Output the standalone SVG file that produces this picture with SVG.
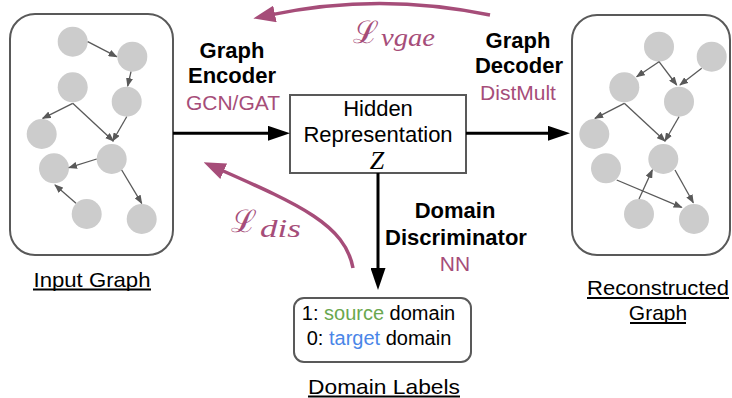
<svg xmlns="http://www.w3.org/2000/svg" width="732" height="398" viewBox="0 0 732 398">
<style>
.box{fill:#fff;stroke:#595959;stroke-width:2}
.nd{fill:#cccccc;stroke:none}
.ge{stroke:#595959;stroke-width:1.3;fill:none;marker-end:url(#sa)}
.big{stroke:#000;stroke-width:3;fill:none;marker-end:url(#ba)}
.loss{stroke:#a64d79;stroke-width:3.5;fill:none;marker-end:url(#pa)}
.t{font-family:"Liberation Sans",Arial,sans-serif;font-size:21px;fill:#000;text-anchor:middle}
.b{font-weight:bold;font-size:22px}
.pk{fill:#a64d79}
.math{font-family:"Liberation Serif","DejaVu Serif",serif;font-style:italic;fill:#a64d79}
.cal{font-family:"DejaVu Serif",serif;font-size:31px;fill:#a64d79}
.ul{stroke:#000;stroke-width:2}
</style>
<defs>
<marker id="sa" markerUnits="userSpaceOnUse" markerWidth="9" markerHeight="7" refX="8" refY="3.5" orient="auto"><path d="M0,0 L9,3.5 L0,7 z" fill="#595959"/></marker>
<marker id="ba" markerUnits="userSpaceOnUse" markerWidth="22" markerHeight="15" refX="2" refY="7.5" orient="auto"><path d="M0,0 L22,7.5 L0,15 z" fill="#000"/></marker>
<marker id="pa" markerUnits="userSpaceOnUse" markerWidth="22" markerHeight="17" refX="3" refY="8.5" orient="auto"><path d="M0,0 L22,8.5 L0,17 z" fill="#a64d79"/></marker>
</defs>

<g id="input-graph">
<rect class="box" x="10" y="14" width="163" height="241" rx="25"/>
<circle class="nd" cx="72.7" cy="41.7" r="15"/>
<circle class="nd" cx="132.3" cy="56.7" r="15"/>
<circle class="nd" cx="72.7" cy="87.3" r="15"/>
<circle class="nd" cx="126.7" cy="101.7" r="15"/>
<circle class="nd" cx="41.7" cy="134" r="15"/>
<circle class="nd" cx="111.7" cy="159" r="15"/>
<circle class="nd" cx="54" cy="168.3" r="15"/>
<circle class="nd" cx="86.7" cy="214" r="15"/>
<circle class="nd" cx="141.7" cy="219" r="15"/>
<path class="ge" d="M87.7,41.7 L116.7,56.7"/>
<path class="ge" d="M131,71.7 L127.7,86"/>
<path class="ge" d="M72.7,103.3 L42.7,118.3"/>
<path class="ge" d="M72.7,103.3 L113.3,141"/>
<path class="ge" d="M126.7,116.7 L112.7,141"/>
<path class="ge" d="M96.7,159 L69,167.7"/>
<path class="ge" d="M76,203.3 L55,185"/>
<path class="ge" d="M121.7,170 L141.7,203.3"/>
</g>

<g id="reconstructed-graph">
<rect class="box" x="572" y="15" width="158" height="240" rx="25"/>
<circle class="nd" cx="659" cy="46.7" r="15"/>
<circle class="nd" cx="711.7" cy="56.7" r="15"/>
<circle class="nd" cx="624.3" cy="87.3" r="15"/>
<circle class="nd" cx="679" cy="101.7" r="15"/>
<circle class="nd" cx="594.3" cy="134" r="15"/>
<circle class="nd" cx="663.3" cy="159" r="15"/>
<circle class="nd" cx="606" cy="168.3" r="15"/>
<circle class="nd" cx="639" cy="214" r="15"/>
<circle class="nd" cx="694" cy="219" r="15"/>
<path class="ge" d="M659,61.7 L636.7,76.7"/>
<path class="ge" d="M659,61.7 L676.7,85"/>
<path class="ge" d="M701.7,68.3 L680,85"/>
<path class="ge" d="M624.3,103.3 L595,118.3"/>
<path class="ge" d="M624.3,103.3 L665,141"/>
<path class="ge" d="M679,116.7 L665,141"/>
<path class="ge" d="M616.7,180 L681.7,207.3"/>
<path class="ge" d="M639,199 L652.3,170"/>
<path class="ge" d="M675,170 L693.3,202.7"/>
</g>

<g id="hidden-representation">
<rect class="box" x="290" y="95" width="176" height="78"/>
<text class="t" x="378" y="116" style="font-size:22px">Hidden</text>
<text class="t" x="378" y="142" style="font-size:22px">Representation</text>
<text x="377" y="169" style="font-family:'Liberation Serif',serif;font-style:italic;font-size:26px;text-anchor:middle;fill:#000">Z</text>
</g>

<g id="domain-labels">
<rect class="box" x="294" y="298" width="177" height="64" rx="10"/>
<text class="t" x="378.5" y="319.5" style="font-size:20px">1: <tspan fill="#6aa84f">source</tspan> domain</text>
<text class="t" x="379" y="345" style="font-size:20px">0: <tspan fill="#4a86e8">target</tspan> domain</text>
</g>

<g id="connectors">
<path class="big" d="M173,133.3 L270,133.3"/>
<path class="big" d="M466,133.3 L550,133.3"/>
<path class="big" d="M378,173 L378,270"/>
<path class="loss" d="M490,15 Q380,-8 272,14.6"/>
<path class="loss" d="M353,268 C345,225 300,205 221,170"/>
</g>

<g id="labels">
<text class="t b" x="232" y="58">Graph</text>
<text class="t b" x="232" y="83">Encoder</text>
<text class="t pk" x="233" y="110">GCN/GAT</text>
<text class="t b" x="518" y="48">Graph</text>
<text class="t b" x="519" y="73">Decoder</text>
<text class="t pk" x="518" y="100">DistMult</text>
<text class="t b" x="455" y="218">Domain</text>
<text class="t b" x="456" y="245">Discriminator</text>
<text class="t pk" x="455" y="271">NN</text>
<text class="cal" x="353" y="43">ℒ</text>
<text class="math" x="381" y="46" textLength="54" lengthAdjust="spacingAndGlyphs" style="font-size:25px">vgae</text>
<text class="cal" x="231" y="232">ℒ</text>
<text class="math" x="260" y="237" textLength="41" lengthAdjust="spacingAndGlyphs" style="font-size:25px">dis</text>
</g>

<g id="captions">
<text class="t" x="92" y="286.7" textLength="117" lengthAdjust="spacingAndGlyphs">Input Graph</text>
<line class="ul" x1="33" y1="289.5" x2="151" y2="289.5"/>
<text class="t" x="384" y="394" textLength="152" lengthAdjust="spacingAndGlyphs">Domain Labels</text>
<line class="ul" x1="308" y1="396.5" x2="460" y2="396.5"/>
<text class="t" x="658" y="295" textLength="142" lengthAdjust="spacingAndGlyphs">Reconstructed</text>
<line class="ul" x1="587" y1="298" x2="729" y2="298"/>
<text class="t" x="658" y="320">Graph</text>
<line class="ul" x1="630" y1="323" x2="686" y2="323"/>
</g>
</svg>
